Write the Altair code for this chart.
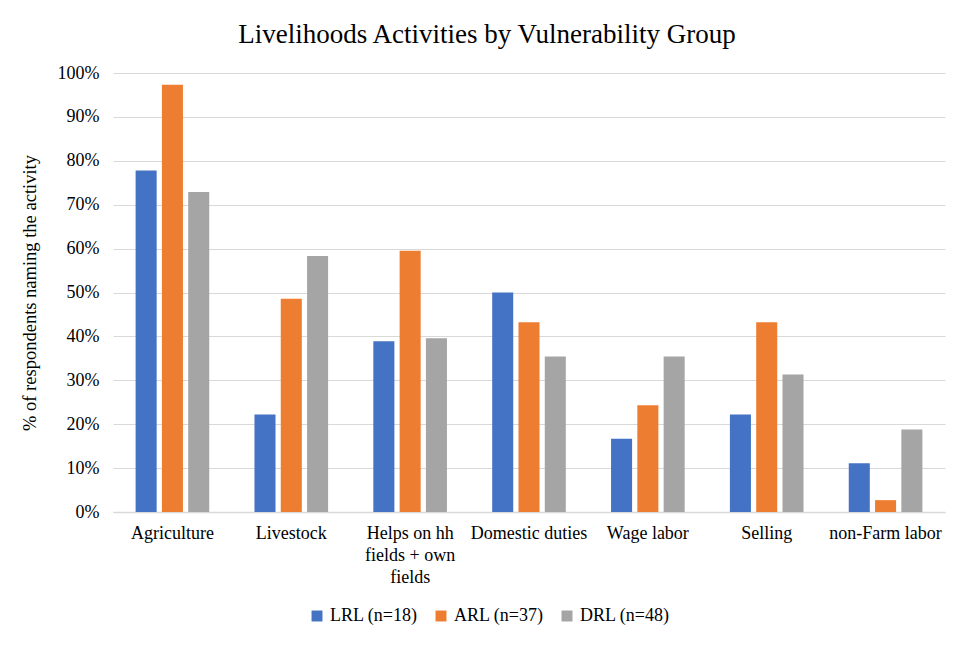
import altair as alt
import pandas as pd

categories = ["Agriculture", "Livestock", "Helps on hh fields + own fields",
              "Domestic duties", "Wage labor", "Selling", "non-Farm labor"]
groups = ["LRL (n=18)", "ARL (n=37)", "DRL (n=48)"]
lrl = [0.778, 0.222, 0.389, 0.500, 0.167, 0.222, 0.111]
arl = [0.973, 0.486, 0.595, 0.432, 0.243, 0.432, 0.027]
drl = [0.729, 0.583, 0.396, 0.354, 0.354, 0.313, 0.188]
y_ticks = [0.0, 0.1, 0.2, 0.3, 0.4, 0.5, 0.6, 0.7, 0.8, 0.9, 1.0]
colors = ["#4472C4", "#ED7D31", "#A5A5A5"]

rows = []
for g, vals in zip(groups, [lrl, arl, drl]):
    for c, v in zip(categories, vals):
        rows.append({"Activity": c, "Group": g, "Value": v})
df = pd.DataFrame(rows)

FONT = "Liberation Serif"

chart = alt.Chart(df).mark_bar().encode(
    x=alt.X("Activity:N", sort=categories,
            scale=alt.Scale(paddingInner=0, paddingOuter=0),
            axis=alt.Axis(title=None, labelAngle=0, ticks=False,
                          domainColor="#d9d9d9", domainWidth=1.5,
                          labelFontSize=18, labelColor="#000", labelPadding=12,
                          labelLineHeight=22, labelFont=FONT,
                          labelExpr="datum.label == 'Helps on hh fields + own fields' ? ['Helps on hh','fields + own','fields'] : datum.label")),
    xOffset=alt.XOffset("Group:N", sort=groups,
                        scale=alt.Scale(paddingInner=0.2, paddingOuter=0.86)),
    y=alt.Y("Value:Q", scale=alt.Scale(domain=[0, 1]),
            axis=alt.Axis(title="% of respondents naming the activity", format=".0%",
                          values=y_ticks, labelOverlap=False,
                          domain=False, ticks=False, gridColor="#d9d9d9",
                          labelFontSize=18, labelColor="#000", labelPadding=14,
                          labelFont=FONT, titleFont=FONT, titleFontSize=18.5,
                          titleFontWeight="normal", titleColor="#000", titlePadding=18)),
    color=alt.Color("Group:N", sort=groups,
                    scale=alt.Scale(domain=groups, range=colors),
                    legend=alt.Legend(title=None, orient="none", direction="horizontal",
                                      legendX=195, legendY=534, symbolType="square",
                                      symbolSize=120, symbolStrokeWidth=0,
                                      labelFontSize=18, labelFont=FONT, labelColor="#000",
                                      columnPadding=14, labelOffset=4)),
).properties(
    width=832, height=439,
    title=alt.TitleParams("Livelihoods Activities by Vulnerability Group",
                          font=FONT, fontSize=27, fontWeight="normal", color="#000",
                          anchor="middle", offset=15, dx=-42),
    autosize=alt.AutoSizeParams(type="none"),
    padding={"left": 105, "top": 65, "right": 21, "bottom": 125},
).configure_view(stroke=None)

chart.save("out.html", embed_options={"renderer": "svg", "actions": False})
